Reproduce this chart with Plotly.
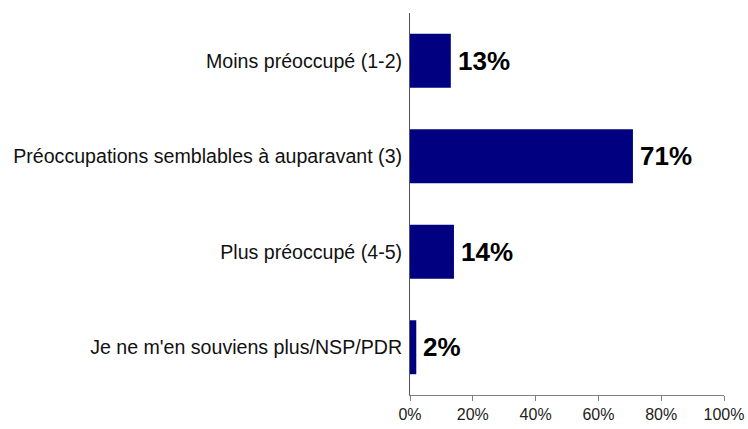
import plotly.graph_objects as go

categories = ["Moins préoccupé (1-2)",
              "Préoccupations semblables à auparavant (3)",
              "Plus préoccupé (4-5)",
              "Je ne m'en souviens plus/NSP/PDR"]
values = [0.13, 0.71, 0.14, 0.02]
tick_vals = [0, 0.2, 0.4, 0.6, 0.8, 1.0]
tick_text = ["0%", "20%", "40%", "60%", "80%", "100%"]

fig = go.Figure()
fig.add_trace(go.Bar(
    x=values, y=categories, orientation="h",
    marker=dict(color="#000080", line=dict(width=0)),
    hoverinfo="skip",
))
for c, v in zip(categories, values):
    fig.add_annotation(x=v, y=c, text=f"{round(v*100)}%", showarrow=False,
                       xanchor="left", xshift=5,
                       font=dict(family="Liberation Sans, Arial", size=26, color="#000000", weight="bold"))

fig.update_layout(
    width=748, height=429,
    margin=dict(l=410, r=24, t=13, b=34),
    paper_bgcolor="white", plot_bgcolor="white",
    bargap=0.435,
    showlegend=False,
)
fig.update_xaxes(range=[0, 1], tickvals=tick_vals, ticktext=tick_text,
                 automargin=False,
                 showgrid=False, zeroline=False, showline=True,
                 linecolor="#7f7f7f", linewidth=1,
                 ticks="outside", ticklen=5, tickcolor="#7f7f7f",
                 tickfont=dict(family="Liberation Sans, Arial", size=16, color="#222222"))
fig.update_yaxes(categoryorder="array", categoryarray=categories[::-1],
                 automargin=False,
                 showgrid=False, zeroline=False, showline=True,
                 linecolor="#555555", linewidth=1, ticks="",
                 ticklabelstandoff=3,
                 tickfont=dict(family="Liberation Sans, Arial", size=19.6, color="#111111"))

fig.write_html("out.html", config={"displayModeBar": False},
               post_script="document.body.style.margin='0';document.body.style.overflow='hidden';")
